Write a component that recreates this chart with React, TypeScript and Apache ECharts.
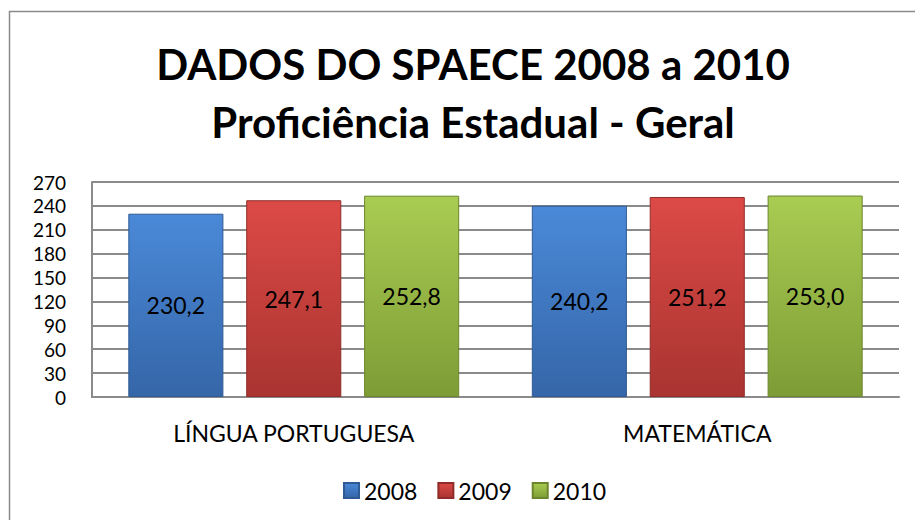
import React, { useEffect, useRef } from "react";
import * as echarts from "echarts";

const categories = ["LÍNGUA PORTUGUESA", "MATEMÁTICA"];
const years = ["2008", "2009", "2010"];
const values2008 = [230.2, 240.2];
const values2009 = [247.1, 251.2];
const values2010 = [252.8, 253.0];
const titleLines = ["DADOS DO SPAECE 2008 a 2010", "Proficiência Estadual - Geral"];

const FONT = "Lato, 'Noto Sans', sans-serif";

function grad(top: string, bottom: string) {
  return new echarts.graphic.LinearGradient(0, 0, 0, 1, [
    { offset: 0, color: top },
    { offset: 1, color: bottom },
  ]);
}

const palette = [
  { fill: grad("#4a89d8", "#3566a8"), border: "#2f5a94" },
  { fill: grad("#dc4a46", "#a93431"), border: "#8f2c29" },
  { fill: grad("#a9cc52", "#7e9c36"), border: "#6c862d" },
];

export default function App() {
  const ref = useRef<HTMLDivElement>(null);
  useEffect(() => {
    if (!ref.current) return;
    const chart = echarts.init(ref.current, null, { renderer: "svg" });
    const seriesData = [values2008, values2009, values2010];
    chart.setOption({
      animation: false,
      title: {
        text: titleLines.join("\n"),
        left: 468,
        top: 30,
        textAlign: "center",
        textStyle: {
          fontFamily: FONT,
          fontWeight: "bold",
          fontSize: 42,
          lineHeight: 58,
          color: "#000",
        },
      },
      graphic: [
        {
          type: "rect",
          shape: { x: 9.5, y: 11.5, width: 930, height: 530 },
          style: { fill: "none", stroke: "#8a8a8a", lineWidth: 1.5 },
          silent: true,
          z: -10,
        },
      ],
      legend: {
        data: years,
        left: 338,
        top: 474,
        itemWidth: 15,
        itemHeight: 15,
        itemGap: 20,
        icon: "rect",
        textStyle: { fontFamily: FONT, fontSize: 23, color: "#000" },
      },
      grid: { left: 92, right: 16, top: 182, bottom: 123 },
      xAxis: {
        type: "category",
        data: categories,
        axisLine: { show: true, lineStyle: { color: "#8a8a8a", width: 2 } },
        axisTick: { show: false },
        axisLabel: { fontFamily: FONT, fontSize: 23, color: "#000", margin: 24 },
      },
      yAxis: {
        type: "value",
        min: 0,
        max: 270,
        interval: 30,
        axisLine: { show: true, lineStyle: { color: "#8a8a8a", width: 2 } },
        axisTick: { show: false },
        axisLabel: { fontFamily: FONT, fontSize: 19, lineHeight: 19, color: "#000", margin: 26 },
        splitLine: { show: true, lineStyle: { color: "#8a8a8a", width: 2 } },
      },
      series: years.map((y, i) => ({
        name: y,
        type: "bar",
        data: seriesData[i],
        barCategoryGap: "18%",
        barGap: "24%",
        itemStyle: { color: palette[i].fill, borderColor: palette[i].border, borderWidth: 1 },
        label: {
          show: true,
          position: "inside",
          fontFamily: FONT,
          fontSize: 23,
          color: "#000",
          formatter: (p: any) => Number(p.value).toFixed(1).replace(".", ","),
        },
      })),
    });
    return () => chart.dispose();
  }, []);
  return <div ref={ref} style={{ width: 915, height: 520, position: "absolute", left: 0, top: 0 }} />;
}
